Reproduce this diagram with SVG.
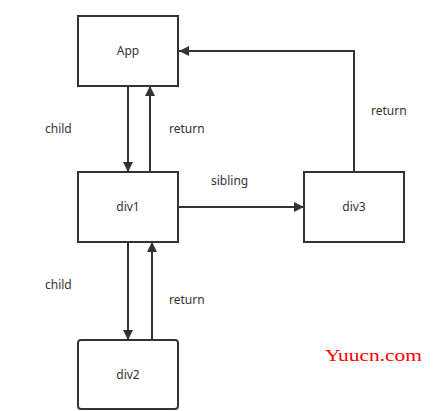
<svg xmlns="http://www.w3.org/2000/svg" width="435" height="411" viewBox="0 0 435 411">
<defs>
<style>
.box{fill:#fff;stroke:#333;stroke-width:2}
.ln{fill:none;stroke:#333;stroke-width:2}
.t{font-family:"Noto Sans","Liberation Sans",sans-serif;font-size:12px;fill:#333}
.n{font-family:"Noto Sans","Liberation Sans",sans-serif;font-size:12px;fill:#333;text-anchor:middle}
</style>
<marker id="ah" viewBox="0 0 10 10" refX="10" refY="5" markerWidth="10" markerHeight="10" markerUnits="userSpaceOnUse" orient="auto">
<path d="M0,0 L10,5 L0,10 Z" fill="#333"/>
</marker>
</defs>
<rect width="435" height="411" fill="#fff"/>
<g id="connectors">
<line class="ln" x1="128" y1="86" x2="128" y2="172" marker-end="url(#ah)"/>
<line class="ln" x1="150" y1="172" x2="150" y2="86" marker-end="url(#ah)"/>
<line class="ln" x1="178" y1="207" x2="304" y2="207" marker-end="url(#ah)"/>
<polyline class="ln" points="354,172 354,51 179,51" marker-end="url(#ah)"/>
<line class="ln" x1="128" y1="242" x2="128" y2="340" marker-end="url(#ah)"/>
<line class="ln" x1="152" y1="340" x2="152" y2="242" marker-end="url(#ah)"/>
<text class="t" x="45" y="133">child</text>
<text class="t" x="169" y="133">return</text>
<text class="t" x="211" y="185">sibling</text>
<text class="t" x="371" y="115">return</text>
<text class="t" x="45" y="289">child</text>
<text class="t" x="169" y="304">return</text>
</g>
<g id="App"><rect class="box" x="78" y="16" width="100" height="70"/><text class="n" x="128" y="55">App</text></g>
<g id="div1"><rect class="box" x="78" y="172" width="100" height="70"/><text class="n" x="128" y="211">div1</text></g>
<g id="div3"><rect class="box" x="304" y="172" width="100" height="70"/><text class="n" x="354" y="211">div3</text></g>
<g id="div2"><rect class="box" x="78" y="340" width="100" height="69" rx="3"/><text class="n" x="128" y="379">div2</text></g>
<text x="325" y="361" font-family="'Liberation Serif',serif" font-size="17" fill="#ff0000" textLength="97" lengthAdjust="spacingAndGlyphs">Yuucn.com</text>
</svg>
